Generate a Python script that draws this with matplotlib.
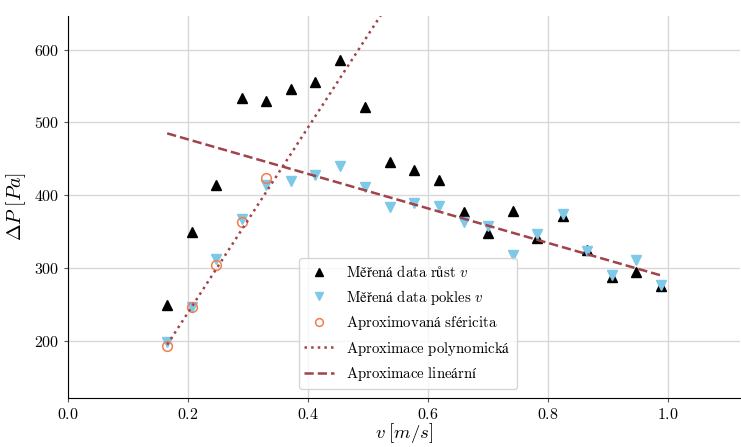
import matplotlib
matplotlib.use("Agg")
import matplotlib.pyplot as plt

plt.rcParams['font.family'] = ['cmr10', 'STIXGeneral']
plt.rcParams['mathtext.fontset'] = 'cm'
plt.rcParams['axes.formatter.use_mathtext'] = True

v = [0.165, 0.206, 0.247, 0.289, 0.330, 0.371, 0.412, 0.453, 0.494, 0.536,
     0.577, 0.618, 0.659, 0.700, 0.741, 0.782, 0.824, 0.865, 0.906, 0.947, 0.988]
dp_rust = [250, 349, 414, 533, 530, 546, 556, 586, 521, 446,
           435, 421, 377, 348, 379, 342, 371, 325, 288, 295, 276]
dp_pokles = [199, 247, 312, 368, 414, 420, 428, 440, 412, 384,
             389, 385, 363, 358, 318, 347, 375, 323, 291, 311, 277]

v_sfer = [0.165, 0.206, 0.247, 0.289, 0.330]
dp_sfer = [193, 247, 304, 364, 424]

poly_x = [0.165, 0.55]
poly_y = [195, 684]

lin_x = [0.165, 0.988]
lin_y = [485, 290]

labels = [r'$\mathrm{Měřená\ data\ růst}\ v$',
          r'$\mathrm{Měřená\ data\ pokles}\ v$',
          r'$\mathrm{Aproximovaná\ sféricita}$',
          r'$\mathrm{Aproximace\ polynomická}$',
          r'$\mathrm{Aproximace\ lineární}$']

line_color = '#A0434A'

fig = plt.figure(figsize=(7.41, 4.47), dpi=100)
ax = fig.add_axes([0.092, 0.11, 0.907, 0.854])

ax.plot(v, dp_rust, linestyle='none', marker='^', color='black', ms=7.5,
        label=labels[0], zorder=3)
ax.plot(v, dp_pokles, linestyle='none', marker='v', color='#7EC8E8', ms=7.5,
        label=labels[1], zorder=3)
ax.plot(v_sfer, dp_sfer, linestyle='none', marker='o', mfc='none', mec='#F07E50',
        ms=7, mew=1.1, label=labels[2], zorder=4)
ax.plot(poly_x, poly_y, linestyle=':', color=line_color, lw=1.8,
        label=labels[3], zorder=5)
ax.plot(lin_x, lin_y, linestyle='--', color=line_color, lw=1.8,
        label=labels[4], zorder=5)

ax.set_xlim(0, 1.12)
ax.set_ylim(122, 646)
ax.set_xticks([0.0, 0.2, 0.4, 0.6, 0.8, 1.0])
ax.set_yticks([200, 300, 400, 500, 600])
ax.grid(True, color='#d8d8d8', lw=1)
ax.set_axisbelow(True)
for s in ['top', 'right']:
    ax.spines[s].set_visible(False)
ax.tick_params(labelsize=11.5, length=3, color='#555555')
ax.set_xlabel(r'$v\;[m/s]$', fontsize=13.5, labelpad=-0.5)
ax.set_ylabel(r'$\Delta P\;[Pa]$', fontsize=14.5, labelpad=4)

ax.legend(loc='lower center', fontsize=10.7, frameon=True, edgecolor='#cccccc',
          bbox_to_anchor=(0.505, 0.0), borderaxespad=0.6, markerscale=0.8)

fig.savefig('out.png', dpi=100)
